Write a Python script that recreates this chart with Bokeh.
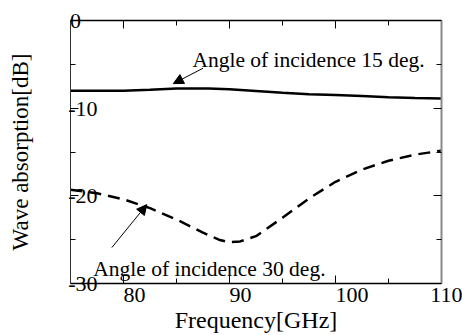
from bokeh.plotting import figure
from bokeh.models import (LinearAxis, FixedTicker, Label, Arrow, NormalHead, Range1d)
from bokeh.embed import file_html
from bokeh.resources import INLINE

# ---- data ----
freq_15 = [75, 77.5, 80, 82.5, 85, 88, 90, 92.5, 95, 97.5, 100, 102.5, 105, 107.5, 110]
abs_15 = [-8.0, -8.0, -8.0, -7.9, -7.75, -7.75, -7.85, -8.05, -8.25, -8.4, -8.5, -8.62, -8.75, -8.83, -8.9]

freq_30 = [75, 77.5, 80, 82.5, 85, 87.5, 89, 90, 91, 92.5, 95, 97.5, 100, 102.5, 105, 107.5, 110]
abs_30 = [-19.3, -19.7, -20.4, -21.4, -22.7, -24.2, -25.0, -25.3, -25.2, -24.6, -22.5, -20.3, -18.4, -17.0, -16.0, -15.3, -14.85]

x_major = [80, 90, 100, 110]
x_minor = [85, 95, 105]
x_labels = ["80", "90", "100", "110"]
y_major = [0, -10, -20, -30]
y_minor = [-5, -15, -25]
y_labels = ["0", "-10", "-20", "-30"]

label_15 = "Angle of incidence 15 deg."
label_30 = "Angle of incidence 30 deg."

FONT = "Liberation Serif"
NB = "\u00a0"

p = figure(width=462, height=335, output_backend="svg", toolbar_location=None,
           x_range=Range1d(75, 110), y_range=Range1d(-30, 0),
           x_axis_location=None, y_axis_location=None,
           min_border_left=70, min_border_right=21, min_border_top=20, min_border_bottom=51)
p.outline_line_color = None
p.grid.visible = False
p.background_fill_color = "white"
p.border_fill_color = "white"


def make_axis(ticks_major, ticks_minor, color, width, label=None, label_size="23px"):
    ax = LinearAxis(ticker=FixedTicker(ticks=ticks_major, minor_ticks=ticks_minor))
    ax.major_tick_in = 8
    ax.major_tick_out = 0
    ax.minor_tick_in = 5
    ax.minor_tick_out = 0
    ax.major_tick_line_color = "black"
    ax.minor_tick_line_color = "black"
    ax.axis_line_color = color
    ax.axis_line_width = width
    ax.major_label_text_font = FONT
    ax.major_label_text_font_size = "22px"
    ax.major_label_text_color = "black"
    if label:
        ax.axis_label = label
        ax.axis_label_text_font = FONT
        ax.axis_label_text_font_style = "normal"
        ax.axis_label_text_font_size = label_size
        ax.axis_label_text_color = "black"
    else:
        ax.major_label_text_font_size = "0px"
        ax.major_label_text_color = None
    return ax


# left axis: labels drawn over the plot, left-aligned look (pad short labels)
left = make_axis(y_major, y_minor, "#333333", 1, "Wave absorption[dB]", "23px")
left.major_label_overrides = {v: (t if len(t) == 3 else t + NB * 3) for v, t in zip(y_major, y_labels)}
left.major_label_standoff = -27
left.axis_label_standoff = 32

right = make_axis(y_major, y_minor, "#888888", 2)

# bottom axis: labels start at their tick (pad on the left)
below = make_axis(x_major, x_minor, "black", 1.5, "Frequency[GHz]", "24px")
below.major_label_overrides = {v: NB * (2 * len(t)) + t for v, t in zip(x_major, x_labels)}
below.major_label_standoff = -2
below.axis_label_standoff = -3

above = make_axis(x_major, x_minor, "black", 1.5)
p.add_layout(left, "left")
p.add_layout(right, "right")
p.add_layout(below, "below")
p.add_layout(above, "above")

# curves
p.line(freq_15, abs_15, line_color="black", line_width=2.5)
p.line(freq_30, abs_30, line_color="black", line_width=2.5, line_dash="12 7")

# annotations
p.add_layout(Label(x=86.5, y=-4.45, text=label_15, text_align="left", text_baseline="alphabetic",
                   text_font=FONT, text_font_size="21.5px", text_color="black"))
p.add_layout(Label(x=77.15, y=-28.3, text=label_30, text_align="left", text_baseline="alphabetic",
                   text_font=FONT, text_font_size="21.5px", text_color="black"))

p.add_layout(Arrow(x_start=87.5, y_start=-5.45, x_end=84.7, y_end=-7.2, line_width=1,
                   line_color="black",
                   end=NormalHead(size=10, fill_color="black", line_color="black")))
p.add_layout(Arrow(x_start=78.9, y_start=-25.9, x_end=82.2, y_end=-21.0, line_width=1,
                   line_color="black",
                   end=NormalHead(size=10, fill_color="black", line_color="black")))

open("out.html", "w").write(file_html(p, INLINE))
